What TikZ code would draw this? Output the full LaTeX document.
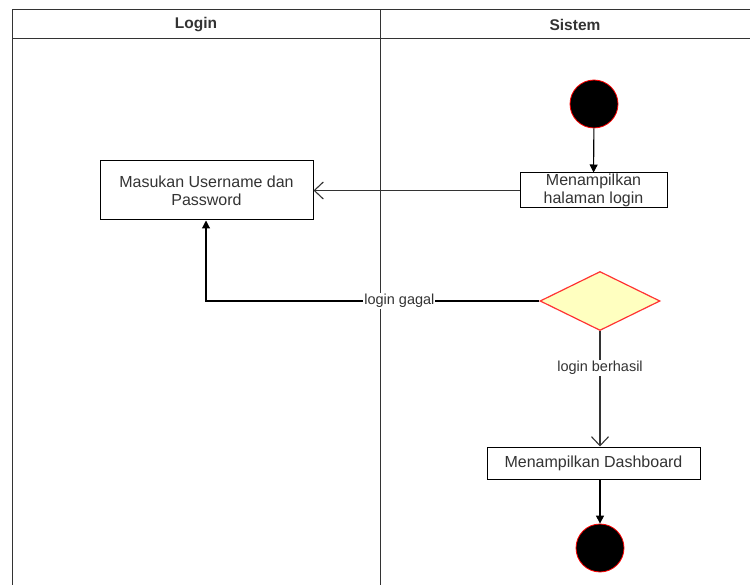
\documentclass[tikz,border=0pt]{standalone}
\usepackage{fontspec}
\setmainfont{Liberation Sans}
\usetikzlibrary{arrows.meta,shapes.geometric}
\definecolor{lanegray}{HTML}{333333}
\definecolor{txtgray}{HTML}{333333}
\definecolor{decfill}{HTML}{FFFFC0}
\definecolor{decline}{HTML}{FF3333}
\tikzset{
  lane/.style={draw=lanegray, line width=1pt},
  action/.style={draw=black, line width=1pt, fill=white, inner sep=0pt,
    font=\fontsize{16}{18}\selectfont, text=txtgray, align=center},
  startnode/.style={circle, fill=black, draw=red, line width=0.8pt,
    minimum size=48pt, inner sep=0pt},
  decision/.style={diamond, aspect=2, fill=decfill, draw=decline,
    line width=1.2pt, minimum width=120pt, minimum height=59pt, inner sep=0pt},
  flow/.style={draw=black, line width=1.1pt, -{Triangle[length=8pt,width=8pt]}},
  openflow/.style={draw=lanegray, line width=1.1pt,
    -{Straight Barb[length=9pt,width=17pt,line width=1.1pt]}},
  edgelabel/.style={fill=white, inner sep=1pt, text=txtgray,
    font=\fontsize{14.5}{16}\selectfont},
  header/.style={font=\bfseries\fontsize{15.5}{17}\selectfont, text=txtgray}
}
\begin{document}
\begin{tikzpicture}[x=1pt,y=-1pt]
\useasboundingbox (0,0) rectangle (750,585);
% swimlane frame
\draw[lane] (12,590) -- (12,10) -- (752,10);
\draw[lane] (12,39) -- (752,39);
\draw[lane] (380,10) -- (380,590);
\node[header] (hlogin) at (196,25) {Login};
\node[header] (hsis) at (575,25) {Sistem};

% nodes
\node[startnode] (start) at (594,104) {};
\node[action, minimum width=147pt, minimum height=35pt] (tampil) at (593.5,190.5)
  {Menampilkan\\halaman login};
\node[action, minimum width=213pt, minimum height=59pt] (masuk) at (206.5,190.5)
  {Masukan Username dan\\Password};
\node[decision] (cek) at (600,301) {};
\node[action, minimum width=213pt, minimum height=32pt] (dash) at (593.5,463)
  {Menampilkan Dashboard};
\node[startnode] (stop) at (600,548) {};

% connectors
\draw[flow] (start) -- (tampil);
\draw[openflow] (tampil.west) -- (masuk.east);
\coordinate (gagalturn) at (206,301);
\draw[flow] (cek.west) -- node[edgelabel, pos=0.42] {login gagal} (gagalturn) -- (masuk.south -| gagalturn);
\draw[openflow] (cek.south) -- node[edgelabel, pos=0.32] {login berhasil} (cek.south |- dash.north);
\draw[flow] (dash.south -| stop) -- (stop);
\end{tikzpicture}
\end{document}
